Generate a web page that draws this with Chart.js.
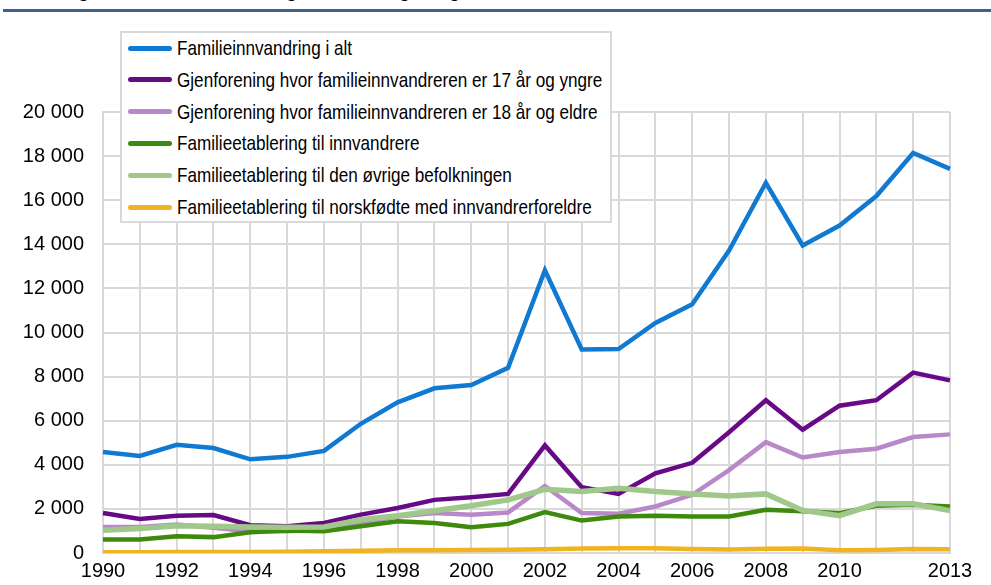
<!DOCTYPE html>
<html>
<head>
<meta charset="utf-8">
<script src="https://cdn.jsdelivr.net/npm/chart.js@4.4.1/dist/chart.umd.min.js"></script>
<style>
  html, body { margin: 0; padding: 0; background: #fff; overflow: hidden; }
  #wrap { position: relative; width: 991px; height: 585px; overflow: hidden; font-family: "Liberation Sans", Arial, sans-serif; }
  #c { position: absolute; left: 0; top: 4px; }
  #title { position: absolute; left: 62px; top: -18px; font-weight: bold; font-size: 18px; line-height: 18px; white-space: nowrap; color: #000; }
  #rule { position: absolute; left: 3px; top: 9px; width: 988px; height: 3px; background: #42608e; }
  #legend { position: absolute; left: 120px; top: 31px; width: 492px; height: 192px; box-sizing: border-box; border: 2px solid #d9d9d9; background: #fff; }
  .row { position: absolute; left: 0; height: 32px; width: 100%; }
  .sw { position: absolute; left: 6px; top: 13.5px; width: 44px; height: 5px; border-radius: 3px; }
  .tx { position: absolute; left: 55px; top: 0; line-height: 32px; font-size: 21px; white-space: nowrap; color: #000; transform: scaleX(0.815); transform-origin: left center; }
</style>
</head>
<body>
<div id="wrap">
  <canvas id="c" width="991" height="585"></canvas>
  <div id="title">Figur 1. Familieinnvandringer etter kategori og år</div>
  <div id="rule"></div>
  <div id="legend"></div>
</div>
<script>
const years = ['1990','1991','1992','1993','1994','1995','1996','1997','1998','1999','2000','2001','2002','2003','2004','2005','2006','2007','2008','2009','2010','2011','2012','2013'];
const xTickLabels = ['1990','1992','1994','1996','1998','2000','2002','2004','2006','2008','2010','2013'];
const yTickValues = [0,2000,4000,6000,8000,10000,12000,14000,16000,18000,20000];
const yTickLabels = ['0','2 000','4 000','6 000','8 000','10 000','12 000','14 000','16 000','18 000','20 000'];

const seriesNames = [
  'Familieinnvandring i alt',
  'Gjenforening hvor familieinnvandreren er 17 år og yngre',
  'Gjenforening hvor familieinnvandreren er 18 år og eldre',
  'Familieetablering til innvandrere',
  'Familieetablering til den øvrige befolkningen',
  'Familieetablering til norskfødte med innvandrerforeldre'
];
const total = [4580,4400,4910,4760,4250,4360,4630,5860,6830,7470,7620,8400,12820,9230,9250,10430,11280,13720,16790,13950,14850,16190,18140,17420];
const under17 = [1810,1540,1690,1720,1260,1210,1360,1740,2040,2410,2530,2680,4880,2980,2680,3610,4090,5480,6930,5590,6680,6930,8180,7830];
const over18 = [1180,1180,1290,1140,990,990,1090,1360,1660,1810,1740,1840,3040,1810,1780,2110,2640,3760,5030,4330,4580,4730,5260,5380];
const toImmigrants = [610,610,760,720,940,1020,990,1210,1440,1360,1170,1320,1860,1470,1660,1690,1660,1660,1960,1890,1810,2140,2190,2110];
const toRest = [1030,1110,1240,1210,1180,1170,1180,1510,1690,1920,2140,2410,2890,2790,2940,2790,2680,2590,2680,1930,1690,2230,2230,1920];
const toNorwegianBorn = [30,30,40,40,50,60,80,100,120,130,140,150,170,200,210,210,180,160,190,200,130,140,180,170];

const seriesValues = [total, under17, over18, toImmigrants, toRest, toNorwegianBorn];
const colors = ['#107ad2','#680a87','#b888c8','#3e8a0c','#a0c88a','#f0b423'];
const widths = [4.5,4.5,4.5,4.5,5.5,4.5];

const datasets = seriesNames.map((name, i) => ({
  label: name,
  data: seriesValues[i],
  borderColor: colors[i],
  backgroundColor: colors[i],
  borderWidth: widths[i],
  pointRadius: 0,
  fill: false,
  tension: 0,
  order: seriesNames.length - i
}));

// HTML legend built from the datasets
const legend = document.getElementById('legend');
seriesNames.forEach((name, i) => {
  const row = document.createElement('div');
  row.className = 'row';
  row.style.top = (15 + 31.8 * i - 16) + 'px';
  const sw = document.createElement('div');
  sw.className = 'sw';
  sw.style.background = colors[i];
  const tx = document.createElement('div');
  tx.className = 'tx';
  tx.textContent = name;
  row.appendChild(sw);
  row.appendChild(tx);
  legend.appendChild(row);
});

new Chart(document.getElementById('c'), {
  type: 'line',
  data: { labels: years, datasets },
  options: {
    responsive: false,
    devicePixelRatio: 1,
    animation: false,
    layout: { padding: { top: 108, right: 41, bottom: 0, left: 0 } },
    plugins: { legend: { display: false }, tooltip: { enabled: false }, title: { display: false } },
    scales: {
      x: {
        type: 'category',
        offset: false,
        grid: { color: '#d9d9d9', lineWidth: 2, drawTicks: false },
        border: { color: '#d9d9d9', width: 2 },
        ticks: {
          autoSkip: false, maxRotation: 0, minRotation: 0, padding: 6,
          color: '#000',
          font: { family: '"Liberation Sans", Arial, sans-serif', size: 20 },
          callback: function(v, idx) { const l = years[idx]; return xTickLabels.includes(l) ? l : ''; }
        }
      },
      y: {
        min: 0, max: 20000,
        grid: { color: '#d9d9d9', lineWidth: 2, drawTicks: false },
        border: { color: '#d9d9d9', width: 2 },
        afterBuildTicks: function(s) { s.ticks = yTickValues.map(v => ({ value: v })); },
        ticks: {
          padding: 19,
          color: '#000',
          font: { family: '"Liberation Sans", Arial, sans-serif', size: 20 },
          callback: function(v) { const k = yTickValues.indexOf(v); return k >= 0 ? yTickLabels[k] : ''; }
        },
        afterFit: function(s) { s.width = 103; }
      }
    }
  }
});
</script>
</body>
</html>
